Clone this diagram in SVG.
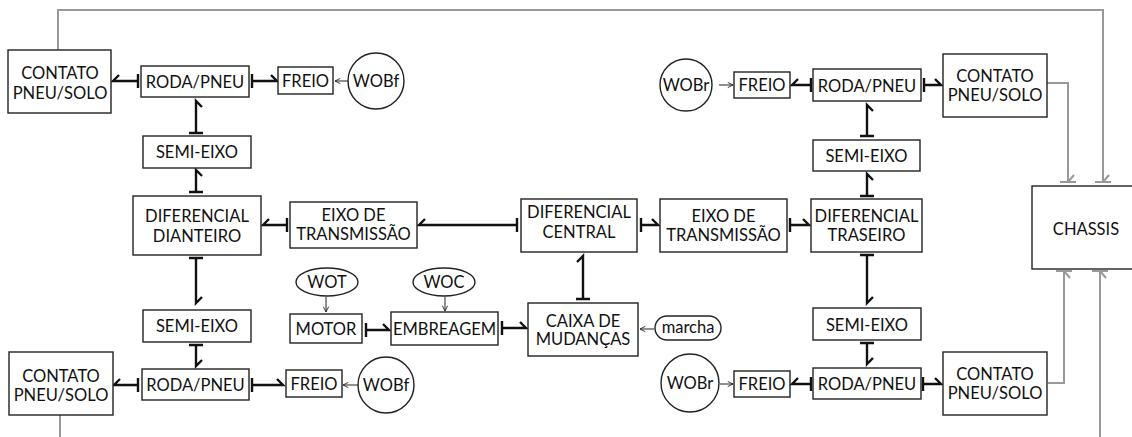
<svg xmlns="http://www.w3.org/2000/svg" width="1132" height="437" viewBox="0 0 1132 437">
<style>
.b{fill:#fff;stroke:#222;stroke-width:1.4}
.t{font-family:Lato,"Liberation Sans",sans-serif;font-size:16.5px;fill:#111;text-anchor:middle}
.k{fill:none;stroke:#111;stroke-width:2.4}
.g{fill:none;stroke:#999;stroke-width:2}
.a{fill:none;stroke:#222;stroke-width:1;marker-end:url(#ah)}
</style>
<defs>
<marker id="ah" viewBox="0 0 8 8" refX="7" refY="4" markerWidth="7" markerHeight="7" markerUnits="userSpaceOnUse" orient="auto">
<path d="M1,1 L7,4 L1,7" fill="none" stroke="#222" stroke-width="1"/>
</marker>
</defs>
<rect width="1132" height="437" fill="#fff"/>

<g id="connectors">
<path class="g" d="M58,50 V10 H1103 V182 M1095,182 H1111 M1103,182 L1109,175"/>
<path class="g" d="M1047,83 H1068 V182 M1060,182 H1076 M1068,182 L1074,175"/>
<path class="g" d="M1048,383 H1064 V271 M1056,271 H1072 M1064,271 L1070,278"/>
<path class="g" d="M1100,437 V271 M1092,271 H1108 M1100,271 L1106,278"/>
<path class="g" d="M60,415 V437"/>
<path class="k" d="M138,81 H113 L119,75 M138,74 V88"/>
<path class="k" d="M252,81 H277 L271,75 M252,74 V88"/>
<path class="k" d="M196,133 V101 L202,107 M189,133 H203"/>
<path class="k" d="M196,192 V170 L202,176 M189,192 H203"/>
<path class="k" d="M287,225 H263 L269,219 M287,218 V232"/>
<path class="k" d="M517,225 H419 L425,219 M517,218 V232"/>
<path class="k" d="M641,225 H658 L652,219 M641,218 V232"/>
<path class="k" d="M790,225 H809 L803,219 M790,218 V232"/>
<path class="k" d="M867,196 V174 L873,180 M860,196 H874"/>
<path class="k" d="M867,136 V105 L873,111 M860,136 H874"/>
<path class="k" d="M811,85 H792 L798,79 M811,78 V92"/>
<path class="k" d="M924,85 H941 L935,79 M924,78 V92"/>
<path class="k" d="M583,299 V256 L577,262 M576,299 H590"/>
<path class="k" d="M366,330 H389 L383,324 M366,323 V337"/>
<path class="k" d="M502,328 H526 L520,322 M502,321 V335"/>
<path class="k" d="M196,258 V303 L202,297 M189,258 H203"/>
<path class="k" d="M196,345 V366 L202,360 M189,345 H203"/>
<path class="k" d="M138,385 H114 L120,379 M138,378 V392"/>
<path class="k" d="M252,385 H283 L277,379 M252,378 V392"/>
<path class="k" d="M867,255 V303 L873,297 M860,255 H874"/>
<path class="k" d="M867,343 V364 L873,358 M860,343 H874"/>
<path class="k" d="M811,384 H792 L798,378 M811,377 V391"/>
<path class="k" d="M923,384 H941 L935,378 M923,377 V391"/>
<path class="a" d="M348,81 H335"/>
<path class="a" d="M358,385 H343"/>
<path class="a" d="M719,85 H733"/>
<path class="a" d="M720,384 H733"/>
<path class="a" d="M326,297 V312"/>
<path class="a" d="M445,297 V311"/>
<path class="a" d="M654,329 H640"/>
</g>

<g id="contato-tl"><rect class="b" x="8" y="50" width="103" height="63"/><text class="t" x="60" y="79">CONTATO</text><text class="t" x="60" y="99">PNEU/SOLO</text></g>
<g id="roda-tl"><rect class="b" x="141" y="66" width="108" height="31"/><text class="t" x="195" y="88">RODA/PNEU</text></g>
<g id="freio-tl"><rect class="b" x="278" y="67" width="55" height="27"/><text class="t" x="305.5" y="87">FREIO</text></g>
<g id="wobf-tl"><circle class="b" cx="376" cy="81" r="28"/><text class="t" x="376" y="87">WOBf</text></g>
<g id="semi-tl"><rect class="b" x="143" y="136" width="108" height="32"/><text class="t" x="197" y="158">SEMI-EIXO</text></g>
<g id="dif-d"><rect class="b" x="133" y="196" width="128" height="59"/><text class="t" x="197" y="222">DIFERENCIAL</text><text class="t" x="197" y="242">DIANTEIRO</text></g>
<g id="eixo-l"><rect class="b" x="290" y="202" width="127" height="46"/><text class="t" x="353.5" y="221">EIXO DE</text><text class="t" x="353.5" y="240">TRANSMISSÃO</text></g>
<g id="dif-c"><rect class="b" x="521" y="199" width="116" height="53"/><text class="t" x="579" y="218">DIFERENCIAL</text><text class="t" x="579" y="238">CENTRAL</text></g>
<g id="eixo-r"><rect class="b" x="660" y="199" width="127" height="53"/><text class="t" x="723.5" y="222">EIXO DE</text><text class="t" x="723.5" y="241">TRANSMISSÃO</text></g>
<g id="dif-t"><rect class="b" x="811" y="199" width="111" height="53"/><text class="t" x="866.5" y="222">DIFERENCIAL</text><text class="t" x="866.5" y="241">TRASEIRO</text></g>
<g id="semi-tr"><rect class="b" x="813" y="140" width="107" height="31"/><text class="t" x="866.5" y="162">SEMI-EIXO</text></g>
<g id="roda-tr"><rect class="b" x="813" y="69" width="108" height="32"/><text class="t" x="867" y="92">RODA/PNEU</text></g>
<g id="freio-tr"><rect class="b" x="734" y="72" width="56" height="26"/><text class="t" x="762" y="91">FREIO</text></g>
<g id="wobr-tr"><circle class="b" cx="686" cy="85" r="26"/><text class="t" x="686" y="91">WOBr</text></g>
<g id="contato-tr"><rect class="b" x="943" y="54" width="104" height="63"/><text class="t" x="995" y="82">CONTATO</text><text class="t" x="995" y="101">PNEU/SOLO</text></g>
<g id="chassis"><rect class="b" x="1032" y="186" width="120" height="83"/><text class="t" x="1086" y="235">CHASSIS</text></g>
<g id="wot"><ellipse class="b" cx="327" cy="282" rx="31" ry="14"/><text class="t" x="327" y="288">WOT</text></g>
<g id="woc"><ellipse class="b" cx="444" cy="282" rx="31" ry="14"/><text class="t" x="444" y="288">WOC</text></g>
<g id="motor"><rect class="b" x="290" y="314" width="72" height="29"/><text class="t" x="326" y="335">MOTOR</text></g>
<g id="embreagem"><rect class="b" x="391" y="312" width="107" height="33"/><text class="t" x="444.5" y="335">EMBREAGEM</text></g>
<g id="caixa"><rect class="b" x="528" y="303" width="110" height="53"/><text class="t" x="583" y="327">CAIXA DE</text><text class="t" x="583" y="345">MUDANÇAS</text></g>
<g id="marcha"><rect class="b" x="655" y="316" width="66" height="24" rx="12"/><text class="t" x="688" y="333">marcha</text></g>
<g id="semi-bl"><rect class="b" x="143" y="310" width="108" height="32"/><text class="t" x="197" y="332">SEMI-EIXO</text></g>
<g id="roda-bl"><rect class="b" x="142" y="369" width="107" height="31"/><text class="t" x="195.5" y="391">RODA/PNEU</text></g>
<g id="freio-bl"><rect class="b" x="286" y="370" width="56" height="27"/><text class="t" x="314" y="390">FREIO</text></g>
<g id="wobf-bl"><circle class="b" cx="386" cy="385" r="28"/><text class="t" x="386" y="391">WOBf</text></g>
<g id="contato-bl"><rect class="b" x="9" y="352" width="104" height="63"/><text class="t" x="61" y="382">CONTATO</text><text class="t" x="61" y="401">PNEU/SOLO</text></g>
<g id="semi-br"><rect class="b" x="813" y="308" width="108" height="32"/><text class="t" x="867" y="331">SEMI-EIXO</text></g>
<g id="roda-br"><rect class="b" x="813" y="368" width="108" height="31"/><text class="t" x="867" y="390">RODA/PNEU</text></g>
<g id="freio-br"><rect class="b" x="734" y="371" width="56" height="26"/><text class="t" x="762" y="390">FREIO</text></g>
<g id="wobr-br"><circle class="b" cx="690" cy="383" r="29"/><text class="t" x="690" y="389">WOBr</text></g>
<g id="contato-br"><rect class="b" x="943" y="352" width="104" height="63"/><text class="t" x="995" y="380">CONTATO</text><text class="t" x="995" y="399">PNEU/SOLO</text></g>
</svg>
